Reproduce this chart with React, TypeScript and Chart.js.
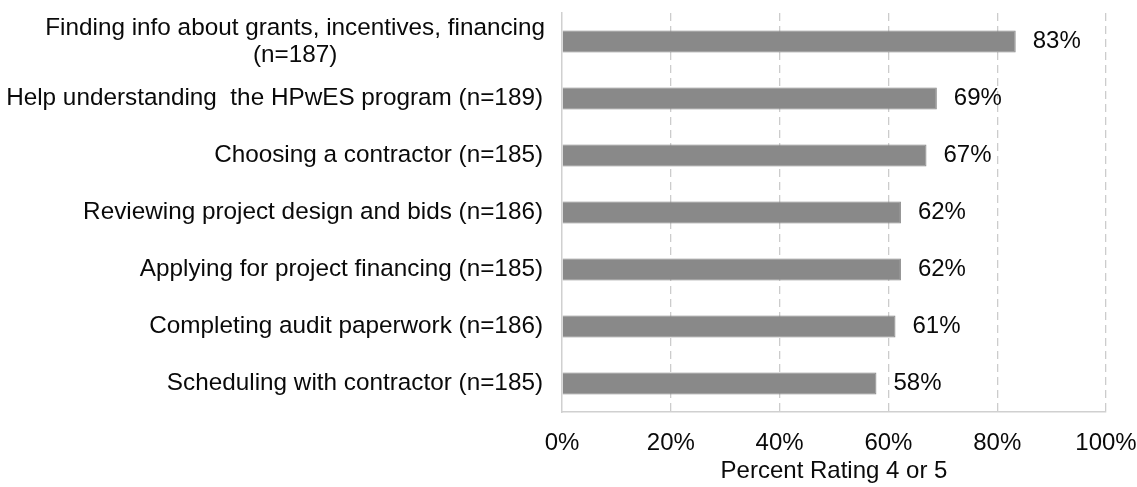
import React, { useEffect, useRef } from 'react';
import { Chart, registerables } from 'chart.js';

Chart.register(...registerables);

const categories: string[][] = [
  ['Finding info about grants, incentives, financing', '(n=187)'],
  ['Help understanding  the HPwES program (n=189)'],
  ['Choosing a contractor (n=185)'],
  ['Reviewing project design and bids (n=186)'],
  ['Applying for project financing (n=185)'],
  ['Completing audit paperwork (n=186)'],
  ['Scheduling with contractor (n=185)'],
];
const percentValues = [83.4, 68.9, 67.0, 62.3, 62.3, 61.3, 57.8];
const xTickStep = 20;
const xMin = 0;
const xMax = 100;
const xAxisTitle = 'Percent Rating 4 or 5';

const FONT = '"Liberation Sans", Arial, Helvetica, sans-serif';

const labelPlugin = {
  id: 'customLabels',
  afterDatasetsDraw(chart: any) {
    const ctx = chart.ctx as CanvasRenderingContext2D;
    const meta = chart.getDatasetMeta(0);
    const yScale = chart.scales.y;
    ctx.save();
    ctx.fillStyle = '#0a0a0a';
    ctx.textBaseline = 'middle';
    ctx.font = `24px ${FONT}`;
    meta.data.forEach((bar: any, i: number) => {
      ctx.textAlign = 'left';
      ctx.fillText(Math.round(percentValues[i]) + '%', bar.x + 17, bar.y);
    });
    ctx.font = `24.3px ${FONT}`;
    const rightX = yScale.right - 19;
    const lh = 27;
    categories.forEach((lines, i) => {
      const cy = yScale.getPixelForValue(i);
      if (lines.length === 1) {
        ctx.textAlign = 'right';
        ctx.fillText(lines[0], rightX, cy);
      } else {
        const maxW = Math.max(...lines.map((l) => ctx.measureText(l).width));
        const cx = rightX + 2 - maxW / 2;
        ctx.textAlign = 'center';
        lines.forEach((l, j) => {
          ctx.fillText(l, cx, cy + (j - (lines.length - 1) / 2) * lh);
        });
      }
    });
    ctx.restore();
  },
};

export default function App() {
  const canvasRef = useRef<HTMLCanvasElement | null>(null);

  useEffect(() => {
    if (!canvasRef.current) return;
    Chart.defaults.font.family = FONT;
    const chart = new Chart(canvasRef.current, {
      type: 'bar',
      data: {
        labels: categories.map((c) => c.join(' ')),
        datasets: [
          {
            data: percentValues,
            backgroundColor: '#898989',
            borderColor: '#828282',
            borderWidth: 1,
            barPercentage: 0.386,
            categoryPercentage: 1,
          },
        ],
      },
      options: {
        indexAxis: 'y',
        animation: false,
        responsive: true,
        maintainAspectRatio: false,
        layout: { padding: { top: 13, right: 0, left: 0, bottom: 0 } },
        plugins: {
          legend: { display: false },
          tooltip: { enabled: false },
        },
        scales: {
          x: {
            type: 'linear',
            position: 'bottom',
            min: xMin,
            max: xMax,
            ticks: {
              stepSize: xTickStep,
              callback: (v: any) => v + '%',
              color: '#0a0a0a',
              font: { size: 24 },
              padding: 17,
              maxRotation: 0,
              autoSkip: false,
            },
            grid: {
              color: (c: any) => (c.tick && c.tick.value === 0 ? 'rgba(0,0,0,0)' : '#cccccc'),
              lineWidth: 1.3,
              drawTicks: false,
            },
            border: { display: true, color: '#d0d0d0', width: 1.5, dash: [8, 5] },
            title: {
              display: true,
              text: xAxisTitle,
              color: '#0a0a0a',
              font: { size: 24 },
              padding: { top: 0, bottom: 1 },
            },
            afterFit: (s: any) => {
              s.height = 75;
              s.paddingRight = 31;
              s.paddingLeft = 0;
            },
          },
          y: {
            type: 'category',
            ticks: { display: false },
            grid: { display: false },
            border: { display: true, color: '#d0d0d0', width: 1.5 },
            afterFit: (s: any) => {
              s.width = 562;
            },
          },
        },
      } as any,
      plugins: [labelPlugin],
    });
    return () => chart.destroy();
  }, []);

  return (
    <div style={{ position: 'fixed', left: 0, top: 0, width: 1137, height: 487, background: '#fff' }}>
      <canvas ref={canvasRef} />
    </div>
  );
}
